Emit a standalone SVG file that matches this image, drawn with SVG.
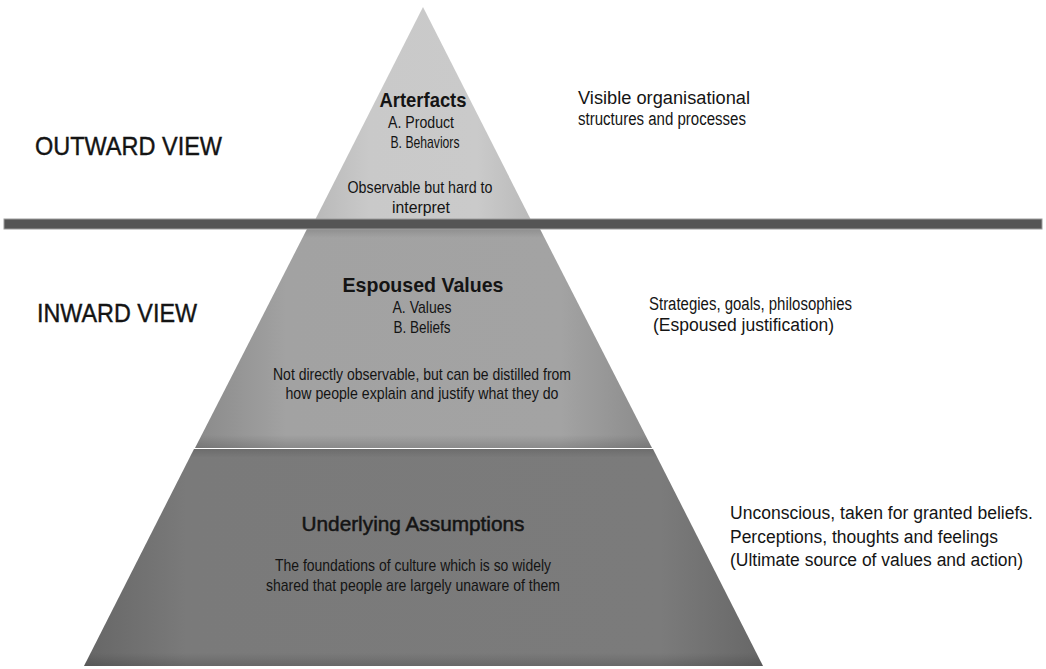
<svg xmlns="http://www.w3.org/2000/svg" width="1046" height="669" viewBox="0 0 1046 669">
  <defs>
    <linearGradient id="gTop" gradientUnits="userSpaceOnUse" x1="315" y1="0" x2="531" y2="0">
      <stop offset="0" stop-color="#b9b9b9"/>
      <stop offset="0.25" stop-color="#c9c9c9"/>
      <stop offset="0.75" stop-color="#cacaca"/>
      <stop offset="1" stop-color="#bababa"/>
    </linearGradient>
    <linearGradient id="gMid" gradientUnits="userSpaceOnUse" x1="195" y1="0" x2="652" y2="0">
      <stop offset="0" stop-color="#8a8a8a"/>
      <stop offset="0.2" stop-color="#a2a2a2"/>
      <stop offset="0.8" stop-color="#a3a3a3"/>
      <stop offset="1" stop-color="#8b8b8b"/>
    </linearGradient>
    <linearGradient id="gBot" gradientUnits="userSpaceOnUse" x1="84" y1="0" x2="763" y2="0">
      <stop offset="0" stop-color="#666666"/>
      <stop offset="0.15" stop-color="#7a7a7a"/>
      <stop offset="0.85" stop-color="#7b7b7b"/>
      <stop offset="1" stop-color="#676767"/>
    </linearGradient>
    <linearGradient id="gShade" x1="0" y1="0" x2="0" y2="1">
      <stop offset="0" stop-color="#000" stop-opacity="0.12"/>
      <stop offset="0.04" stop-color="#000" stop-opacity="0"/>
      <stop offset="0.94" stop-color="#000" stop-opacity="0"/>
      <stop offset="1" stop-color="#000" stop-opacity="0.15"/>
    </linearGradient>
    <style>
      .t { font-family: "Liberation Sans", Arial, sans-serif; fill: #141414; }
      .c { text-anchor: middle; }
      .h { font-weight: bold; font-size: 21px; }
      .s { font-size: 17px; }
      .side { font-size: 18px; }
      .view { font-size: 25px; stroke: #141414; stroke-width: 0.4px; }
    </style>
  </defs>

  <rect width="1046" height="669" fill="#ffffff"/>

  <!-- top layer -->
  <g id="artefacts">
    <polygon points="423,7 315,220 531,220" fill="url(#gTop)"/>
    <text class="t c h" x="423" y="107" textLength="87" lengthAdjust="spacingAndGlyphs">Arterfacts</text>
    <text class="t c s" x="421" y="128" textLength="66" lengthAdjust="spacingAndGlyphs">A. Product</text>
    <text class="t c s" x="425" y="148" textLength="69" lengthAdjust="spacingAndGlyphs">B. Behaviors</text>
    <text class="t c s" x="420" y="193" textLength="145" lengthAdjust="spacingAndGlyphs">Observable but hard to</text>
    <text class="t c s" x="421" y="213" textLength="58" lengthAdjust="spacingAndGlyphs">interpret</text>
  </g>

  <!-- middle layer -->
  <g id="espoused-values">
    <polygon points="307,229 540,229 652,448 195,448" fill="url(#gMid)"/>
    <polygon points="307,229 540,229 652,448 195,448" fill="url(#gShade)"/>
    <text class="t c h" x="423" y="292" textLength="161" lengthAdjust="spacingAndGlyphs">Espoused Values</text>
    <text class="t c s" x="422" y="313" textLength="59" lengthAdjust="spacingAndGlyphs">A. Values</text>
    <text class="t c s" x="422" y="333" textLength="57" lengthAdjust="spacingAndGlyphs">B. Beliefs</text>
    <text class="t c s" x="422" y="380" textLength="298" lengthAdjust="spacingAndGlyphs">Not directly observable, but can be distilled from</text>
    <text class="t c s" x="422" y="399" textLength="273" lengthAdjust="spacingAndGlyphs">how people explain and justify what they do</text>
  </g>

  <!-- bottom layer -->
  <g id="underlying-assumptions">
    <polygon points="194,449 653,449 763,666 84,666" fill="url(#gBot)"/>
    <polygon points="194,449 653,449 763,666 84,666" fill="url(#gShade)"/>
    <text class="t c h" x="413" y="531" textLength="223" lengthAdjust="spacingAndGlyphs" style="font-weight:normal;stroke:#141414;stroke-width:0.5px">Underlying Assumptions</text>
    <text class="t c s" x="413" y="571" textLength="276" lengthAdjust="spacingAndGlyphs">The foundations of culture which is so widely</text>
    <text class="t c s" x="413" y="591" textLength="294" lengthAdjust="spacingAndGlyphs">shared that people are largely unaware of them</text>
  </g>

  <!-- dividing bar between outward and inward view -->
  <g id="divider">
    <rect x="4" y="219" width="1038" height="10" fill="#555555" stroke="#9c9c9c" stroke-width="1"/>
  </g>

  <!-- view labels -->
  <g id="outward-view">
    <text class="t view" x="35" y="155" textLength="187" lengthAdjust="spacingAndGlyphs">OUTWARD VIEW</text>
  </g>
  <g id="inward-view">
    <text class="t view" x="37" y="322" textLength="160" lengthAdjust="spacingAndGlyphs">INWARD VIEW</text>
  </g>

  <!-- descriptions -->
  <g id="desc-artefacts">
    <text class="t side" x="578" y="104" textLength="172" lengthAdjust="spacingAndGlyphs">Visible organisational</text>
    <text class="t side" x="578" y="125" textLength="168" lengthAdjust="spacingAndGlyphs">structures and processes</text>
  </g>
  <g id="desc-values">
    <text class="t side" x="649" y="310" textLength="203" lengthAdjust="spacingAndGlyphs">Strategies, goals, philosophies</text>
    <text class="t side" x="653" y="331" textLength="181" lengthAdjust="spacingAndGlyphs">(Espoused justification)</text>
  </g>
  <g id="desc-assumptions">
    <text class="t side" x="730" y="519" textLength="303" lengthAdjust="spacingAndGlyphs">Unconscious, taken for granted beliefs.</text>
    <text class="t side" x="730" y="543" textLength="268" lengthAdjust="spacingAndGlyphs">Perceptions, thoughts and feelings</text>
    <text class="t side" x="730" y="566" textLength="293" lengthAdjust="spacingAndGlyphs">(Ultimate source of values and action)</text>
  </g>
</svg>
